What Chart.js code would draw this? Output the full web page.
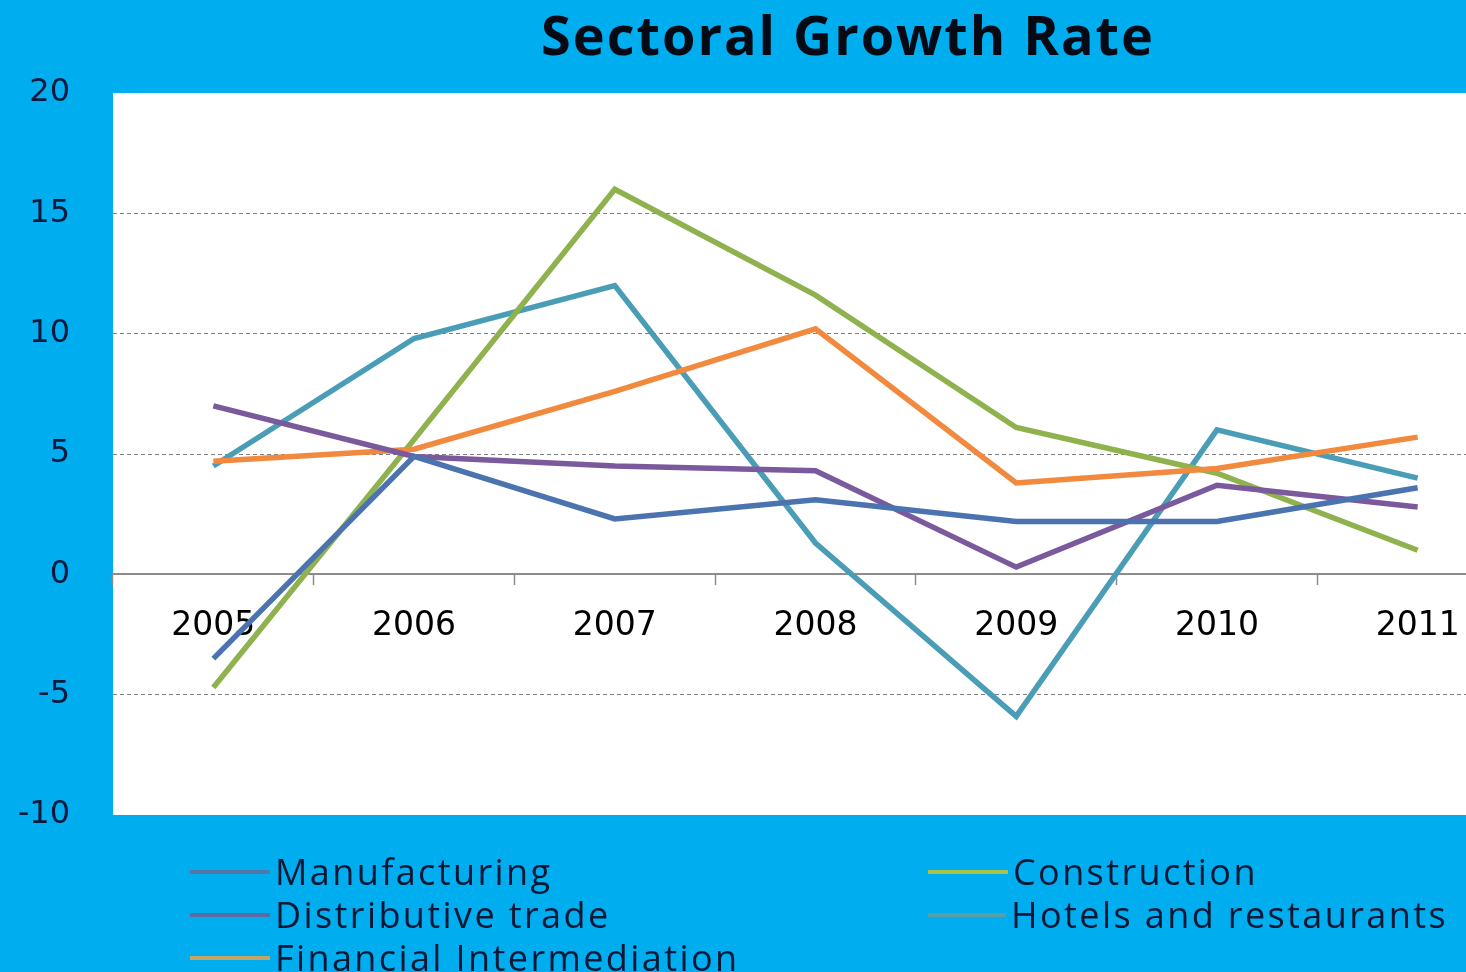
<!DOCTYPE html>
<html>
<head>
<meta charset="utf-8">
<script src="https://cdn.jsdelivr.net/npm/chart.js@4/dist/chart.umd.min.js"></script>
<style>
    html, body { margin: 0; padding: 0; }
    #stage {
        position: relative;
        width: 1466px;
        height: 972px;
        overflow: hidden;
        background: #00adee;
    }
    #trendsChart { position: absolute; left: 0; top: 0; }
    #chartTitle {
        position: absolute;
        left: 848px;
        top: 7px;
        margin: 0;
        transform: translateX(-50%);
        font: bold 54px/54px "Open Sans", sans-serif;
        letter-spacing: 2px;
        color: #050a14;
        white-space: nowrap;
    }
    #legend {
        position: absolute;
        left: 190px;
        top: 850px;
        display: grid;
        grid-template-columns: 738px 520px;
    }
    .legend-item {
        display: flex;
        align-items: center;
        height: 43px;
        font: 36px "Open Sans", sans-serif;
        letter-spacing: 2.4px;
        color: #0a1836;
        white-space: nowrap;
    }
    .legend-line {
        width: 80px;
        height: 4px;
        margin-right: 5px;
    }
</style>
</head>
<body>
<div id="stage">
    <canvas id="trendsChart" width="1525" height="972"></canvas>
    <h1 id="chartTitle">Sectoral Growth Rate</h1>
    <div id="legend"></div>
</div>
<script>
// Years on the category axis
const years = ['2005', '2006', '2007', '2008', '2009', '2010', '2011'];

// Growth rate per sector, percent
const manufacturing = [-3.5, 4.9, 2.3, 3.1, 2.2, 2.2, 3.6];
const distributiveTrade = [7.0, 4.9, 4.5, 4.3, 0.3, 3.7, 2.8];
const financialIntermediation = [4.7, 5.2, 7.6, 10.2, 3.8, 4.4, 5.7];
const construction = [-4.7, 5.6, 16.0, 11.6, 6.1, 4.2, 1.0];
const hotelsAndRestaurants = [4.5, 9.8, 12.0, 1.3, -5.9, 6.0, 4.0];

// Value axis range
const yMin = -10;
const yMax = 20;
const yStep = 5;

const series = [
    { label: 'Manufacturing', data: manufacturing, color: '#4a73b0', legendColor: '#4d78a8' },
    { label: 'Distributive trade', data: distributiveTrade, color: '#7a5a9c', legendColor: '#5f6aa0' },
    { label: 'Financial Intermediation', data: financialIntermediation, color: '#f18a3e', legendColor: '#c6a466' },
    { label: 'Construction', data: construction, color: '#8fb24e', legendColor: '#a8c24a' },
    { label: 'Hotels and restaurants', data: hotelsAndRestaurants, color: '#4a9db6', legendColor: '#5a9eaa' }
];

// White plot background behind the lines
const plotBackground = {
    id: 'plotBackground',
    beforeDraw(chart) {
        const { ctx, chartArea } = chart;
        ctx.save();
        ctx.fillStyle = '#ffffff';
        ctx.fillRect(chartArea.left, chartArea.top, chartArea.right - chartArea.left, chartArea.bottom - chartArea.top);
        ctx.restore();
    }
};

const tickFont = 'DejaVu Sans, Verdana, sans-serif';

const ctx = document.getElementById('trendsChart').getContext('2d');

const trendsChart = new Chart(ctx, {
    type: 'line',
    data: {
        labels: years,
        datasets: series.map(s => ({
            label: s.label,
            data: s.data,
            borderColor: s.color,
            backgroundColor: s.color,
            borderWidth: 5.5,
            pointRadius: 0,
            tension: 0,
            fill: false
        }))
    },
    options: {
        responsive: false,
        animation: false,
        layout: {
            padding: { top: 93, bottom: 157, left: 0, right: 7 }
        },
        plugins: {
            legend: { display: false },
            tooltip: { enabled: false },
            title: { display: false }
        },
        scales: {
            x: {
                position: { y: 0 },
                offset: true,
                grid: {
                    offset: true,
                    drawOnChartArea: false,
                    drawTicks: true,
                    tickLength: 10,
                    tickColor: '#8c8c8c',
                    tickWidth: 1.5
                },
                border: { display: true, color: '#8c8c8c', width: 2 },
                ticks: {
                    color: '#000000',
                    padding: 22,
                    font: { family: tickFont, size: 33 },
                    maxRotation: 0
                }
            },
            y: {
                min: yMin,
                max: yMax,
                afterFit(scale) {
                    scale.width = 113;
                },
                grid: {
                    color: function(context) {
                        const v = context.tick.value;
                        if (v === 0 || v === yMin || v === yMax) {
                            return 'rgba(0,0,0,0)';
                        }
                        return '#7f7f7f';
                    },
                    lineWidth: 1,
                    drawTicks: true,
                    tickLength: 13,
                    tickColor: 'rgba(0,0,0,0)'
                },
                border: { display: false, dash: [4, 3] },
                ticks: {
                    stepSize: yStep,
                    color: '#0b1a3c',
                    padding: 30,
                    font: { family: tickFont, size: 32 }
                }
            }
        }
    },
    plugins: [plotBackground]
});

// Two-column legend under the plot
const legendOrder = [0, 3, 1, 4, 2];
const legendBox = document.getElementById('legend');
legendOrder.forEach(i => {
    const s = series[i];
    const item = document.createElement('div');
    item.className = 'legend-item';
    const line = document.createElement('span');
    line.className = 'legend-line';
    line.style.background = s.legendColor;
    const text = document.createElement('span');
    text.textContent = s.label;
    item.appendChild(line);
    item.appendChild(text);
    legendBox.appendChild(item);
});
</script>
</body>
</html>
